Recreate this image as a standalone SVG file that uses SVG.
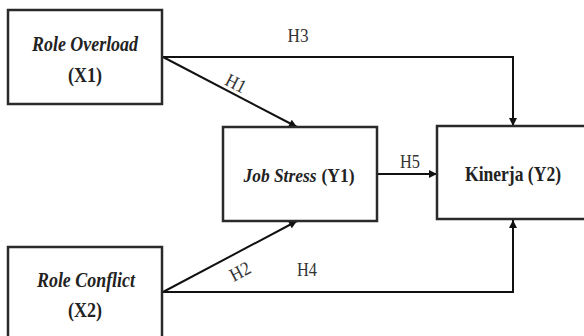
<svg xmlns="http://www.w3.org/2000/svg" width="584" height="336" viewBox="0 0 584 336">
<defs>
<marker id="arr" viewBox="0 0 10 10" refX="10" refY="5" markerWidth="10" markerHeight="8" markerUnits="userSpaceOnUse" orient="auto">
<path d="M0,0 L10,5 L0,10 z" fill="#111"/>
</marker>
<style>
.box{fill:#fff;stroke:#2a2a2a;stroke-width:2.5}
.t{font-family:'Liberation Serif','Times New Roman','DejaVu Serif',serif;font-weight:bold;font-size:21px;fill:#222;text-anchor:middle}
.s{font-size:19px}
.i{font-style:italic}
.lbl{font-family:'Liberation Serif','Times New Roman','DejaVu Serif',serif;font-size:19px;fill:#333;text-anchor:middle}
.ln{fill:none;stroke:#111;stroke-width:2}
</style>
</defs>
<rect width="584" height="336" fill="#fff"/>
<g id="connectors">
<line class="ln" x1="163" y1="57" x2="297" y2="127" marker-end="url(#arr)"/>
<polyline class="ln" points="163,57 513,57 513,126" marker-end="url(#arr)"/>
<line class="ln" x1="163" y1="292" x2="297" y2="221" marker-end="url(#arr)"/>
<polyline class="ln" points="163,292 513,292 513,220" marker-end="url(#arr)"/>
<line class="ln" x1="377" y1="174" x2="437" y2="174" marker-end="url(#arr)"/>
<text class="lbl" x="298" y="42" textLength="21" lengthAdjust="spacingAndGlyphs">H3</text>
<text class="lbl" x="0" y="0" transform="translate(233,89) rotate(27)" textLength="21" lengthAdjust="spacingAndGlyphs">H1</text>
<text class="lbl" x="0" y="0" transform="translate(243,277) rotate(-28)" textLength="21" lengthAdjust="spacingAndGlyphs">H2</text>
<text class="lbl" x="307" y="276" textLength="20" lengthAdjust="spacingAndGlyphs">H4</text>
<text class="lbl" x="410" y="168" textLength="20" lengthAdjust="spacingAndGlyphs">H5</text>
</g>
<g id="x1">
<rect class="box" x="8" y="10" width="154" height="94"/>
<text class="t i" x="85" y="51" textLength="106" lengthAdjust="spacingAndGlyphs">Role Overload</text>
<text class="t" x="85" y="82" textLength="34" lengthAdjust="spacingAndGlyphs">(X1)</text>
</g>
<g id="x2">
<rect class="box" x="8" y="247" width="154" height="100"/>
<text class="t i" x="86" y="287" textLength="98" lengthAdjust="spacingAndGlyphs">Role Conflict</text>
<text class="t" x="85" y="317" textLength="34" lengthAdjust="spacingAndGlyphs">(X2)</text>
</g>
<g id="y1">
<rect class="box" x="223" y="127" width="154" height="94"/>
<text class="t s i" x="280" y="182" textLength="73" lengthAdjust="spacingAndGlyphs">Job Stress</text>
<text class="t s" x="338" y="182" textLength="33" lengthAdjust="spacingAndGlyphs">(Y1)</text>
</g>
<g id="y2">
<rect class="box" x="437" y="126" width="160" height="93"/>
<text class="t" x="513" y="181" textLength="96" lengthAdjust="spacingAndGlyphs">Kinerja (Y2)</text>
</g>
</svg>
